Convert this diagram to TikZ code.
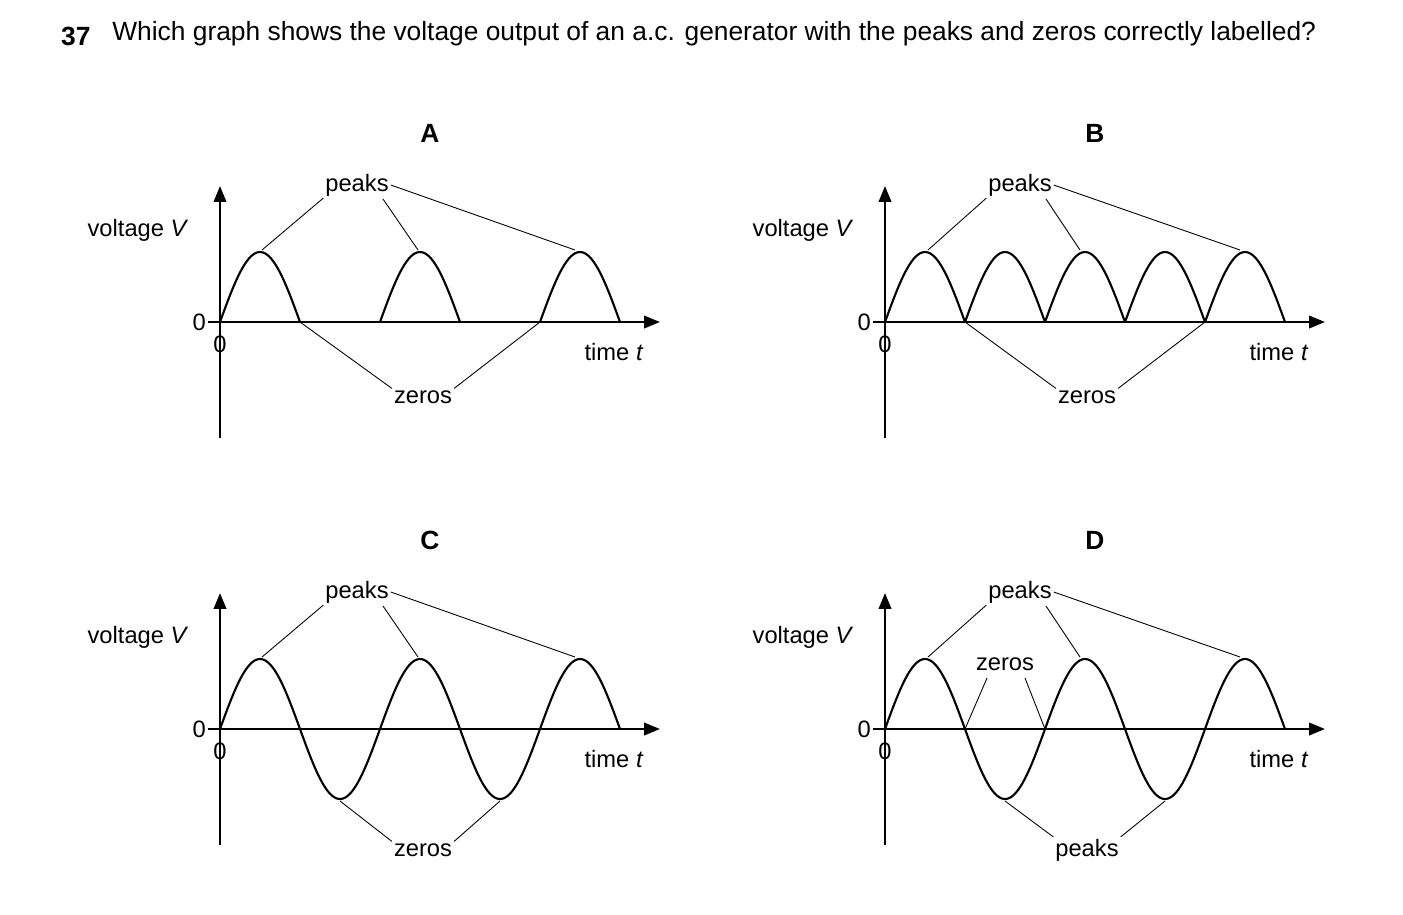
\documentclass[tikz,border=0pt]{standalone}
\usepackage{fontspec}
\setmainfont{Liberation Sans}
\usetikzlibrary{arrows.meta}
\tikzset{
  axis/.style={line width=1.4pt},
  arrowaxis/.style={axis,-{Triangle[length=9pt,width=7pt]}},
  wave/.style={line width=1.2pt},
  lead/.style={line width=0.5pt},
  lbl/.style={font=\fontsize{13.5}{16}\selectfont,inner sep=1pt},
}
\begin{document}
\begin{tikzpicture}[x=0.02cm,y=-0.02cm]
  \useasboundingbox (0,0) rectangle (1403,914);

  % question
  \node[anchor=base west,font=\fontsize{15}{18}\selectfont\bfseries] (num) at (55,45) {37};
  \node[anchor=north west,text width=24.7cm,align=justify,inner sep=0pt,
        font=\fontsize{15}{18.5}\selectfont] (q) at (112,21)
    {Which graph shows the voltage output of an a.c. generator with the peaks and zeros correctly labelled?};

  % axes of the four graphs
  \foreach \ox/\oy/\name in {220/322/A, 885/322/B, 220/729/C, 885/729/D}{
    \coordinate (o\name) at (\ox,\oy);
    \coordinate (yb\name) at (\ox,\oy+116);
    \coordinate (yt\name) at (\ox,\oy-136);
    \coordinate (xl\name) at (\ox-12,\oy);
    \coordinate (xr\name) at (\ox+440,\oy);
    \draw[axis] (yb\name) -- (o\name);
    \draw[arrowaxis] (o\name) -- (yt\name);
    \draw[axis] (xl\name) -- (o\name);
    \draw[arrowaxis] (o\name) -- (xr\name);
    \node[lbl,anchor=east] (zl\name) at (\ox-12,\oy) {0};
    \node[lbl,anchor=north] (zb\name) at (\ox,\oy+12) {0};
    \node[lbl] (v\name) at (\ox-82,\oy-92) {voltage \textit{V}};
    \node[lbl] (t\name) at (\ox+394,\oy+30) {time \textit{t}};
    \node[font=\fontsize{15}{18}\selectfont\bfseries] (h\name) at (\ox+210,\oy-189) {\name};
  }

  % A
  \foreach \s in {220,380,540}
    \draw[wave] plot[domain=0:80,samples=40,smooth] ({\s+\x},{322-70*sin(\x*2.25)});
  \draw[wave] (300,322) -- (380,322) (460,322) -- (540,322);
  \node[lbl] (pA) at (357,185) {peaks};
  \node[lbl] (zA) at (423,397) {zeros};
  \draw[lead] (pA.south west) -- (262,250) (383,199) -- (418,250) (pA.east) -- (575,250);
  \draw[lead] (zA.north west) -- (300,322) (zA.north east) -- (540,322);

  % B
  \foreach \s in {885,965,1045,1125,1205}
    \draw[wave] plot[domain=0:80,samples=40,smooth] ({\s+\x},{322-70*sin(\x*2.25)});
  \node[lbl] (pB) at (1020,185) {peaks};
  \node[lbl] (zB) at (1087,397) {zeros};
  \draw[lead] (pB.south west) -- (928,250) (1046,199) -- (1080,250) (pB.east) -- (1240,250);
  \draw[lead] (zB.north west) -- (965,322) (zB.north east) -- (1205,322);

  % C
  \draw[wave] plot[domain=0:400,samples=200,smooth] ({220+\x},{729-70*sin(\x*2.25)});
  \node[lbl] (pC) at (357,592) {peaks};
  \node[lbl] (zC) at (423,850) {zeros};
  \draw[lead] (pC.south west) -- (262,657) (383,606) -- (418,657) (pC.east) -- (575,657);
  \draw[lead] (zC.north west) -- (340,801) (zC.north east) -- (500,801);

  % D
  \draw[wave] plot[domain=0:400,samples=200,smooth] ({885+\x},{729-70*sin(\x*2.25)});
  \node[lbl] (pD) at (1020,592) {peaks};
  \node[lbl] (zD) at (1005,664) {zeros};
  \node[lbl] (qD) at (1087,850) {peaks};
  \draw[lead] (pD.south west) -- (928,657) (1046,606) -- (1080,657) (pD.east) -- (1240,657);
  \draw[lead] (987,678) -- (965,729) (1025,678) -- (1045,729);
  \draw[lead] (qD.north west) -- (1005,801) (qD.north east) -- (1165,801);
\end{tikzpicture}
\end{document}
